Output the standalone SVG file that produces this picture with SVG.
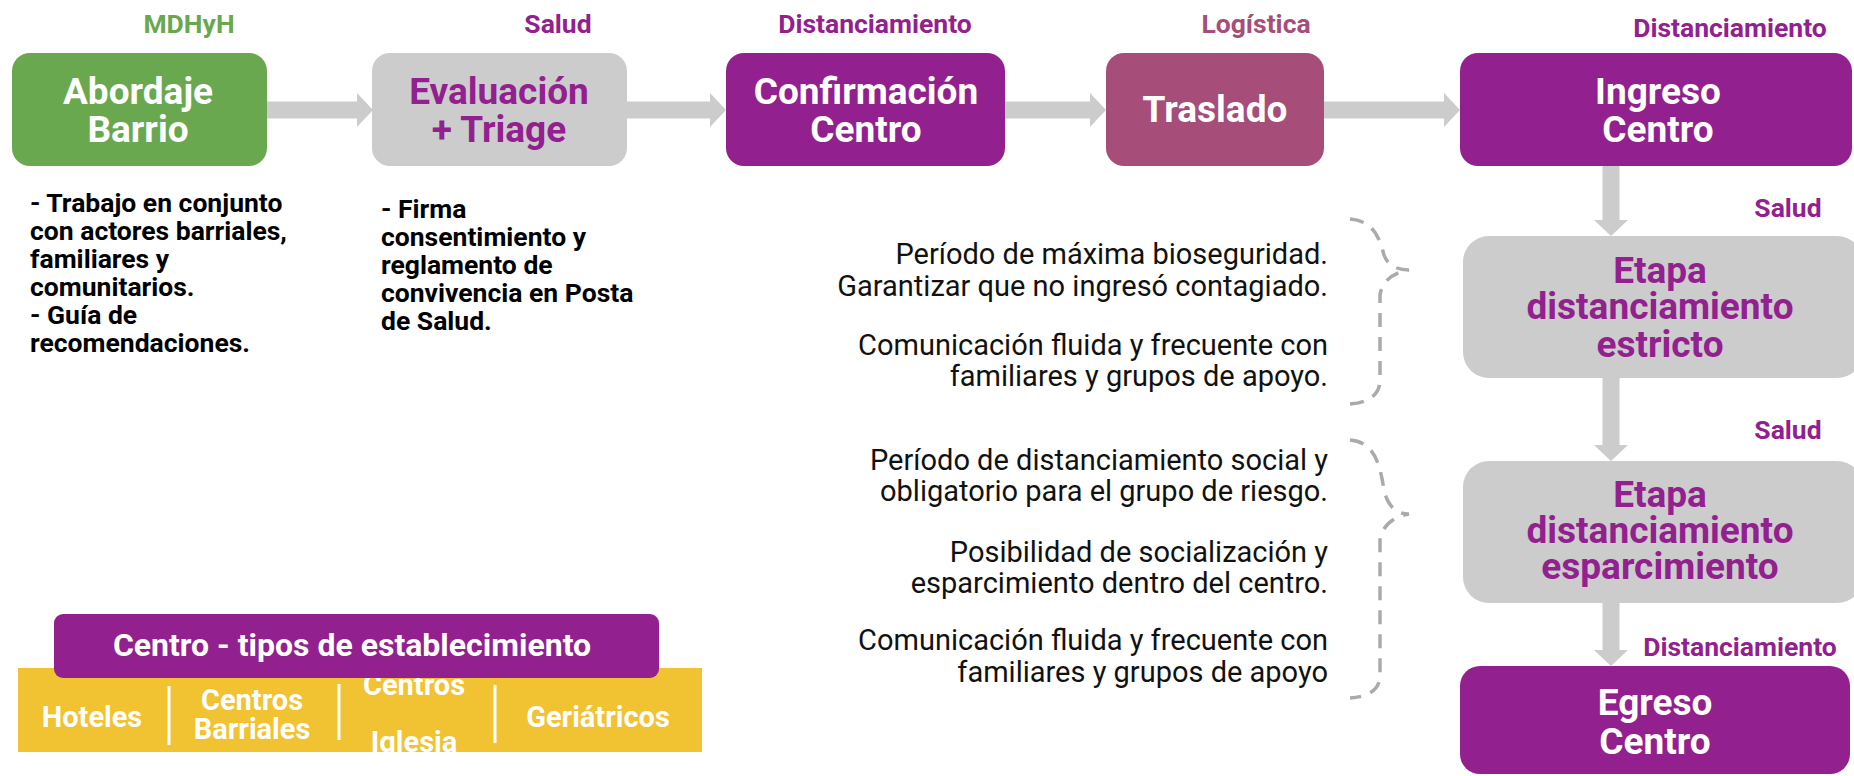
<svg xmlns="http://www.w3.org/2000/svg" width="1854" height="776" viewBox="0 0 1854 776">
<defs>
<style>
text{font-family:Roboto,"Liberation Sans",sans-serif}
.bx{font-weight:700;font-size:37px;text-anchor:middle}
.w{fill:#ffffff}
.p{fill:#93208f}
.lbl{font-weight:700;font-size:26.5px;text-anchor:middle}
.desc{font-weight:700;font-size:26.5px;fill:#000}
.mid{font-size:29px;fill:#111;text-anchor:end}
.br{fill:none;stroke:#aaaaaa;stroke-width:3.5;stroke-dasharray:14 10}
.arr{stroke:#cccccc;stroke-width:17;fill:none}
.it{font-weight:700;font-size:29px;fill:#fff;text-anchor:middle}
.dv{stroke:#fff;stroke-width:3}
</style>
<marker id="ah" viewBox="0 0 16 34" refX="0" refY="17" markerWidth="16" markerHeight="34" markerUnits="userSpaceOnUse" orient="auto">
<path d="M0,0 L16,17 L0,34 Z" fill="#cccccc"/>
</marker>
<clipPath id="band"><rect x="18" y="668" width="684" height="84"/></clipPath>
</defs>

<g id="connectors">
<line class="arr" x1="267" y1="110" x2="357" y2="110" marker-end="url(#ah)"/>
<line class="arr" x1="627" y1="110" x2="710" y2="110" marker-end="url(#ah)"/>
<line class="arr" x1="1005" y1="110" x2="1090" y2="110" marker-end="url(#ah)"/>
<line class="arr" x1="1324" y1="110" x2="1444" y2="110" marker-end="url(#ah)"/>
<line class="arr" x1="1611" y1="166" x2="1611" y2="220" marker-end="url(#ah)"/>
<line class="arr" x1="1611" y1="378" x2="1611" y2="445" marker-end="url(#ah)"/>
<line class="arr" x1="1611" y1="603" x2="1611" y2="650" marker-end="url(#ah)"/>
<path class="br" d="M1350,219 C1375,221 1380,240 1384,255 C1388,266 1398,270 1409,270 C1395,272 1382,280 1380,295 L1380,380 C1380,395 1368,403 1350,404"/>
<path class="br" d="M1350,440 C1375,442 1380,465 1384,490 C1388,508 1398,514 1409,514 C1395,516 1382,525 1380,540 L1380,675 C1380,690 1368,697 1350,698"/>
</g>

<g id="lbl-mdhyh"><text class="lbl" x="189" y="33" fill="#6aa84f">MDHyH</text></g>
<g id="lbl-salud1"><text class="lbl p" x="558" y="33">Salud</text></g>
<g id="lbl-dist1"><text class="lbl p" x="875" y="33">Distanciamiento</text></g>
<g id="lbl-log"><text class="lbl" x="1256" y="33" fill="#a64d79">Logística</text></g>
<g id="lbl-dist2"><text class="lbl p" x="1730" y="37">Distanciamiento</text></g>

<g id="abordaje">
<rect x="12" y="53" width="255" height="113" rx="18" fill="#6aa84f"/>
<text class="bx w" x="138" y="104">Abordaje</text>
<text class="bx w" x="138" y="142">Barrio</text>
</g>
<g id="evaluacion">
<rect x="372" y="53" width="255" height="113" rx="18" fill="#cccccc"/>
<text class="bx p" x="499" y="104">Evaluación</text>
<text class="bx p" x="499" y="142">+ Triage</text>
</g>
<g id="confirmacion">
<rect x="726" y="53" width="279" height="113" rx="18" fill="#93208f"/>
<text class="bx w" x="866" y="104">Confirmación</text>
<text class="bx w" x="866" y="142">Centro</text>
</g>
<g id="traslado">
<rect x="1106" y="53" width="218" height="113" rx="18" fill="#a64d79"/>
<text class="bx w" x="1215" y="122">Traslado</text>
</g>
<g id="ingreso">
<rect x="1460" y="53" width="392" height="113" rx="18" fill="#93208f"/>
<text class="bx w" x="1658" y="104">Ingreso</text>
<text class="bx w" x="1658" y="142">Centro</text>
</g>

<g id="desc-abordaje">
<text class="desc" x="30" y="212">- Trabajo en conjunto</text>
<text class="desc" x="30" y="240">con actores barriales,</text>
<text class="desc" x="30" y="268">familiares y</text>
<text class="desc" x="30" y="296">comunitarios.</text>
<text class="desc" x="30" y="324">- Guía de</text>
<text class="desc" x="30" y="352">recomendaciones.</text>
</g>
<g id="desc-evaluacion">
<text class="desc" x="381" y="218">- Firma</text>
<text class="desc" x="381" y="246">consentimiento y</text>
<text class="desc" x="381" y="274">reglamento de</text>
<text class="desc" x="381" y="302">convivencia en Posta</text>
<text class="desc" x="381" y="330">de Salud.</text>
</g>

<g id="notes-estricto">
<text class="mid" x="1328" y="264">Período de máxima bioseguridad.</text>
<text class="mid" x="1328" y="296">Garantizar que no ingresó contagiado.</text>
<text class="mid" x="1328" y="355">Comunicación fluida y frecuente con</text>
<text class="mid" x="1328" y="386">familiares y grupos de apoyo.</text>
</g>
<g id="notes-esparcimiento">
<text class="mid" x="1328" y="470">Período de distanciamiento social y</text>
<text class="mid" x="1328" y="501">obligatorio para el grupo de riesgo.</text>
<text class="mid" x="1328" y="562">Posibilidad de socialización y</text>
<text class="mid" x="1328" y="593">esparcimiento dentro del centro.</text>
<text class="mid" x="1328" y="650">Comunicación fluida y frecuente con</text>
<text class="mid" x="1328" y="682">familiares y grupos de apoyo</text>
</g>

<g id="lbl-salud2"><text class="lbl p" x="1788" y="217">Salud</text></g>
<g id="etapa-estricto">
<rect x="1463" y="236" width="400" height="142" rx="26" fill="#cccccc"/>
<text class="bx p" x="1660" y="283">Etapa</text>
<text class="bx p" x="1660" y="319">distanciamiento</text>
<text class="bx p" x="1660" y="357">estricto</text>
</g>
<g id="lbl-salud3"><text class="lbl p" x="1788" y="439">Salud</text></g>
<g id="etapa-esparcimiento">
<rect x="1463" y="461" width="400" height="142" rx="26" fill="#cccccc"/>
<text class="bx p" x="1660" y="507">Etapa</text>
<text class="bx p" x="1660" y="543">distanciamiento</text>
<text class="bx p" x="1660" y="579">esparcimiento</text>
</g>
<g id="lbl-dist3"><text class="lbl p" x="1740" y="656">Distanciamiento</text></g>
<g id="egreso">
<rect x="1460" y="666" width="390" height="108" rx="20" fill="#93208f"/>
<text class="bx w" x="1655" y="715">Egreso</text>
<text class="bx w" x="1655" y="754">Centro</text>
</g>

<g id="tipos">
<rect x="18" y="668" width="684" height="84" fill="#f1c232"/>
<g clip-path="url(#band)">
<text class="it" x="92" y="727">Hoteles</text>
<text class="it" x="252" y="710">Centros</text>
<text class="it" x="252" y="739">Barriales</text>
<text class="it" x="414" y="695">Centros</text>
<text class="it" x="414" y="752">Iglesia</text>
<text class="it" x="598" y="727">Geriátricos</text>
</g>
<line class="dv" x1="169" y1="686" x2="169" y2="745"/>
<line class="dv" x1="339" y1="684" x2="339" y2="740"/>
<line class="dv" x1="495" y1="685" x2="495" y2="743"/>
<rect x="54" y="614" width="605" height="64" rx="9" fill="#93208f"/>
<text class="it" x="352" y="656" style="font-size:32px">Centro - tipos de establecimiento</text>
</g>
</svg>
